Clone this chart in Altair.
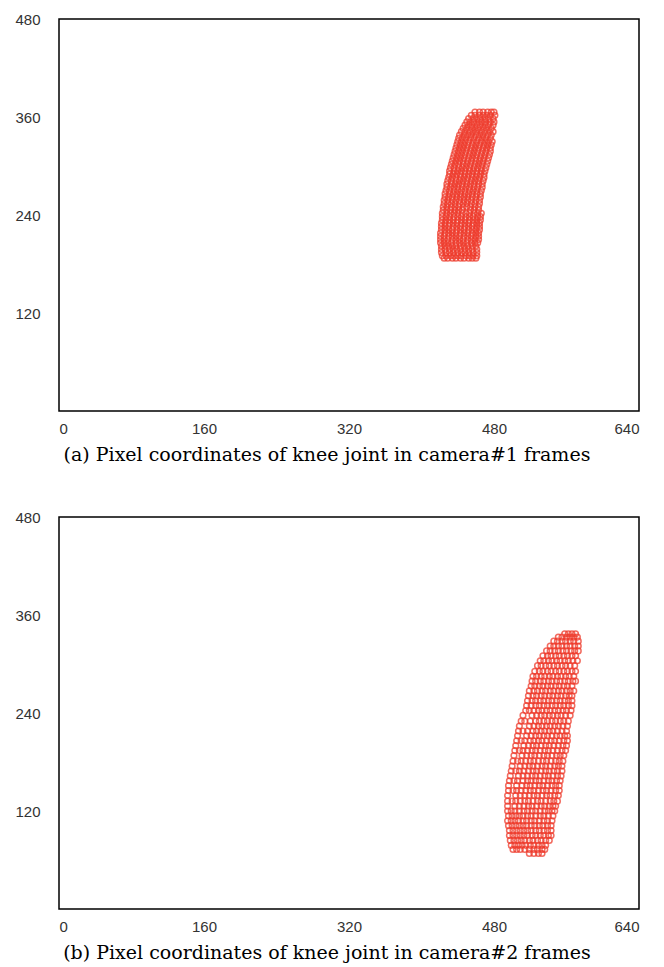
import altair as alt
import pandas as pd

x_ticks = [0, 160, 320, 480, 640]
y_ticks = [120, 240, 360, 480]
captions = ["(a) Pixel coordinates of knee joint in camera#1 frames",
            "(b) Pixel coordinates of knee joint in camera#2 frames"]

# camera 1 knee joint pixel coordinates: rows of (y, [x values])
cam1_rows = [
    (366, [459, 464, 468, 473, 477, 480]),
    (362, [455, 459, 464, 468, 472, 476, 481]),
    (358, [452, 457, 461, 465, 470, 474, 479]),
    (354, [450, 454, 458, 463, 467, 471, 476, 480]),
    (350, [448, 452, 456, 461, 465, 470, 474, 479]),
    (346, [446, 450, 455, 459, 463, 468, 472, 477]),
    (342, [444, 448, 453, 457, 461, 466, 470, 475, 479]),
    (338, [442, 447, 451, 455, 460, 464, 468, 473, 477]),
    (334, [441, 445, 449, 454, 458, 463, 467, 471, 476]),
    (330, [440, 444, 448, 452, 457, 461, 466, 470, 474, 478]),
    (326, [439, 443, 447, 451, 456, 460, 464, 469, 473, 477]),
    (322, [438, 442, 446, 450, 455, 459, 463, 468, 472, 476]),
    (318, [437, 441, 445, 449, 454, 458, 462, 467, 471, 476]),
    (314, [436, 440, 444, 448, 453, 457, 461, 466, 470, 475]),
    (310, [435, 439, 443, 447, 452, 456, 460, 465, 469, 474]),
    (306, [434, 438, 442, 446, 451, 455, 460, 464, 468, 473]),
    (302, [433, 437, 441, 446, 450, 454, 459, 463, 467, 472]),
    (298, [432, 436, 441, 445, 449, 453, 458, 462, 466, 471]),
    (294, [431, 436, 440, 444, 448, 453, 457, 461, 466, 470]),
    (290, [431, 435, 439, 443, 448, 452, 456, 461, 465, 469]),
    (286, [430, 434, 438, 443, 447, 451, 456, 460, 464, 469]),
    (282, [429, 433, 438, 442, 446, 450, 455, 459, 463, 468]),
    (278, [428, 433, 437, 441, 445, 450, 454, 458, 463, 467]),
    (274, [428, 432, 436, 440, 445, 449, 453, 458, 462, 467]),
    (270, [427, 431, 436, 440, 444, 448, 453, 457, 461, 466]),
    (266, [426, 431, 435, 439, 443, 448, 452, 456, 461, 465]),
    (262, [426, 430, 434, 439, 443, 447, 451, 456, 460, 465]),
    (258, [425, 429, 434, 438, 442, 447, 451, 455, 460, 464]),
    (254, [425, 429, 433, 437, 442, 446, 450, 455, 459, 464]),
    (250, [424, 428, 433, 437, 441, 446, 450, 454, 459, 463]),
    (246, [424, 428, 432, 437, 441, 445, 454, 458, 463]),
    (242, [423, 428, 432, 436, 440, 445, 449, 453, 458, 462, 466]),
    (238, [423, 427, 431, 436, 440, 444, 449, 453, 457, 462, 465]),
    (234, [423, 427, 431, 435, 440, 444, 448, 453, 457, 461, 465]),
    (230, [422, 426, 431, 435, 439, 444, 448, 452, 457, 461, 464]),
    (226, [422, 426, 430, 435, 439, 443, 448, 452, 456, 461, 464]),
    (222, [422, 426, 430, 434, 439, 443, 447, 452, 456, 460, 464]),
    (218, [421, 426, 430, 434, 438, 443, 447, 451, 456, 460, 463]),
    (214, [421, 425, 430, 434, 438, 442, 447, 451, 455, 460, 463]),
    (210, [421, 425, 429, 434, 438, 442, 446, 451, 455, 459, 463]),
    (206, [421, 425, 429, 433, 438, 442, 446, 450, 455, 459, 462]),
    (202, [422, 426, 430, 434, 438, 443, 447, 451, 456, 460]),
    (198, [422, 426, 431, 435, 439, 443, 448, 452, 456, 461]),
    (194, [422, 427, 431, 435, 440, 444, 448, 452, 457, 461]),
    (190, [423, 427, 432, 436, 440, 444, 449, 453, 457, 461]),
    (187, [425, 429, 434, 438, 443, 447, 452, 456, 460]),
]

# camera 2 knee joint pixel coordinates: rows of (y, [x values])
cam2_rows = [
    (337, [558, 562, 566, 570]),
    (333, [551, 555, 560, 564, 568, 572]),
    (328, [546, 550, 555, 559, 564, 568, 573]),
    (322, [542, 546, 551, 555, 560, 564, 569, 573]),
    (316, [538, 542, 547, 551, 556, 560, 565, 569, 573]),
    (310, [534, 539, 543, 548, 552, 557, 561, 566, 570]),
    (304, [531, 535, 540, 544, 549, 553, 558, 562, 567, 572]),
    (298, [528, 532, 537, 541, 546, 550, 555, 559, 564, 569]),
    (291, [525, 530, 534, 539, 543, 548, 552, 557, 561, 566, 570]),
    (285, [523, 527, 532, 536, 541, 545, 550, 554, 559, 563, 568]),
    (279, [522, 526, 531, 535, 540, 544, 549, 553, 558, 562, 567, 570]),
    (273, [521, 525, 530, 534, 539, 543, 548, 552, 557, 561, 566]),
    (267, [519, 524, 528, 533, 537, 542, 546, 551, 555, 560, 564, 568]),
    (261, [518, 523, 527, 532, 536, 541, 545, 550, 554, 559, 563, 566]),
    (255, [517, 522, 526, 531, 535, 540, 544, 549, 553, 558, 562, 566]),
    (249, [516, 521, 526, 530, 535, 539, 544, 548, 553, 557, 562, 566]),
    (243, [515, 519, 524, 529, 533, 538, 542, 547, 551, 556, 560, 565]),
    (237, [512, 522, 527, 532, 536, 541, 545, 550, 554, 559, 564]),
    (230, [510, 514, 520, 526, 530, 535, 539, 544, 548, 553, 557, 562]),
    (224, [508, 519, 524, 529, 533, 538, 542, 547, 551, 556, 561]),
    (218, [507, 512, 517, 523, 527, 532, 536, 541, 545, 550, 555, 560]),
    (212, [506, 516, 521, 526, 530, 535, 539, 544, 549, 553, 558, 561]),
    (206, [505, 510, 514, 520, 524, 529, 533, 538, 543, 547, 552, 557, 561]),
    (200, [504, 513, 518, 523, 527, 532, 537, 541, 546, 551, 556, 560]),
    (194, [503, 508, 512, 517, 522, 526, 531, 536, 540, 545, 550, 555, 559]),
    (188, [502, 511, 516, 521, 525, 530, 535, 539, 544, 549, 553, 557]),
    (181, [501, 506, 510, 515, 520, 524, 529, 534, 538, 543, 548, 552, 556]),
    (175, [500, 509, 514, 519, 523, 528, 533, 537, 542, 547, 551, 555]),
    (169, [499, 504, 508, 513, 518, 523, 527, 532, 537, 541, 546, 550, 555]),
    (163, [498, 507, 512, 517, 522, 526, 531, 536, 540, 545, 550, 554]),
    (157, [497, 502, 506, 512, 517, 521, 526, 530, 535, 540, 544, 549, 553]),
    (151, [496, 505, 511, 516, 520, 525, 530, 534, 539, 544, 548, 552]),
    (145, [496, 501, 505, 510, 515, 520, 524, 529, 534, 538, 543, 548, 552]),
    (139, [495, 504, 509, 514, 519, 524, 528, 533, 538, 542, 547, 551]),
    (132, [495, 500, 504, 509, 514, 518, 523, 528, 532, 537, 542, 546, 550]),
    (126, [495, 503, 508, 513, 518, 522, 527, 532, 536, 541, 545, 548]),
    (120, [495, 499, 503, 508, 513, 517, 522, 526, 531, 536, 540, 544, 547]),
    (114, [496, 500, 504, 508, 512, 517, 521, 526, 531, 535, 540, 545]),
    (108, [495, 499, 503, 507, 512, 516, 521, 525, 530, 535, 539, 544]),
    (102, [496, 500, 504, 508, 512, 516, 521, 525, 530, 534, 539, 543]),
    (96, [497, 501, 505, 509, 513, 517, 521, 526, 530, 535, 539, 543]),
    (90, [497, 501, 505, 509, 513, 517, 522, 526, 531, 535, 540, 543]),
    (84, [498, 502, 506, 510, 514, 519, 523, 528, 532, 537, 541]),
    (78, [499, 503, 507, 511, 515, 520, 524, 529, 533, 537]),
    (73, [501, 505, 509, 514, 519, 524, 528, 533, 536]),
    (68, [519, 524, 529, 533]),
]


def to_frame(rows):
    recs = []
    for y, xs in rows:
        for x in xs:
            recs.append({"x": x, "y": y})
    return pd.DataFrame(recs)


RED = "#ee3b2c"


def panel(rows, caption):
    df = to_frame(rows)
    return alt.Chart(df).mark_point(
        shape="circle", filled=False, size=32, strokeWidth=1.5,
        color=RED, opacity=0.75
    ).encode(
        x=alt.X("x:Q", scale=alt.Scale(domain=[0, 640], nice=False, zero=False),
                axis=alt.Axis(values=x_ticks, title=None)),
        y=alt.Y("y:Q", scale=alt.Scale(domain=[0, 480], nice=False, zero=False),
                axis=alt.Axis(values=y_ticks, title=None)),
    ).properties(
        width=580, height=392,
        title=alt.TitleParams(caption, orient="bottom", anchor="middle",
                              frame="bounds", font="DejaVu Serif",
                              fontSize=19, fontWeight="normal",
                              color="black", offset=10)
    )


chart = alt.vconcat(
    panel(cam1_rows, captions[0]),
    panel(cam2_rows, captions[1]),
    spacing=43,
).properties(
    padding={"left": 6, "top": 3, "right": 5, "bottom": 3}
).configure_view(
    stroke="black", strokeWidth=1.5
).configure_axis(
    domain=False, ticks=False, grid=False,
    labelFont="Liberation Sans", labelFontSize=15, labelColor="#333333",
    labelPadding=10
).configure_axisY(
    labelPadding=19
)

chart.save("out.html", embed_options={"renderer": "svg", "actions": False})
